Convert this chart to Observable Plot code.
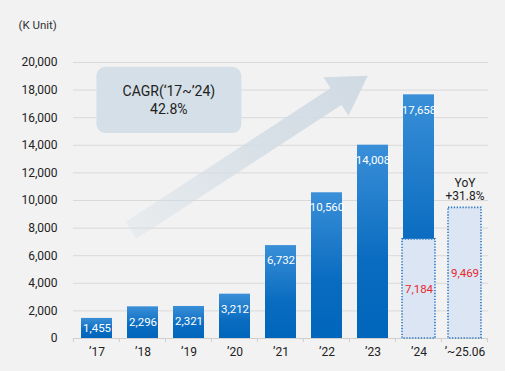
<!DOCTYPE html>
<html><head><meta charset="utf-8">
<script src="https://cdn.jsdelivr.net/npm/d3@7"></script>
<script src="https://cdn.jsdelivr.net/npm/@observablehq/plot@0.6"></script>
<style>
html,body{margin:0;padding:0;background:#f2f2f2;}
svg{display:block;}
</style>
</head><body><div id="chart"></div>
<script>
// ---- data ----
const categories = ["’17","’18","’19","’20","’21","’22","’23","’24","’~25.06"];
const totals = [1455, 2296, 2321, 3212, 6732, 10560, 14008, 17658, null];
const partials = [null, null, null, null, null, null, null, 7184, 9469];
const yTicks = [0, 2000, 4000, 6000, 8000, 10000, 12000, 14000, 16000, 18000, 20000];
const unitLabel = "(K Unit)";
const cagrLines = ["CAGR(‘17~’24)", "42.8%"];
const yoyText = "YoY\n+31.8%";
// arrow / box anchors expressed in data terms (category, value)
const arrowFrom = {cat: "’17", value: 7800};
const arrowTo = {cat: "’23", value: 19000};
const cagrBox = {from: "’17", to: "’20", top: 19650, bottom: 14850};

const fmt = d3.format(",");
const blueData = categories.map((c, i) => ({cat: c, value: totals[i], i})).filter(d => d.value != null);
const partData = categories.map((c, i) => ({cat: c, value: partials[i]})).filter(d => d.value != null);
const PAD = 0.33;

function defs() {
  const d = d3.create("svg:defs");
  const g = d.append("linearGradient").attr("id", "barGrad").attr("x1", 0).attr("y1", 0).attr("x2", 0).attr("y2", 1);
  g.append("stop").attr("offset", "0%").attr("stop-color", "#3a8fd8");
  g.append("stop").attr("offset", "60%").attr("stop-color", "#0a6cc0");
  g.append("stop").attr("offset", "100%").attr("stop-color", "#0066bb");
  return d.node();
}

function decor(index, scales, values, dims) {
  const x = scales.x, y = scales.y;
  const step = x(categories[1]) - x(categories[0]);
  const bw = step * (1 - PAD);
  const xc = c => x(c) + bw / 2;
  const g = d3.create("svg:g");
  // x-axis tick marks at band boundaries
  const bounds = categories.map(c => x(c) - step * PAD / 2);
  bounds.push(x(categories[categories.length - 1]) + bw + step * PAD / 2);
  g.append("g").selectAll("line").data(bounds).join("line")
    .attr("x1", d => d).attr("x2", d => d)
    .attr("y1", y(0)).attr("y2", y(0) + 4)
    .attr("stroke", "#cfcfcf");
  // arrow
  const ax1 = xc(arrowFrom.cat) + 0.75 * step, ay1 = y(arrowFrom.value);
  const ax2 = xc(arrowTo.cat) - 0.1 * step, ay2 = y(arrowTo.value);
  const dx = ax2 - ax1, dy = ay2 - ay1, len = Math.hypot(dx, dy);
  const ux = dx / len, uy = dy / len, nx = -uy, ny = ux;
  const sw = 10, hw = 23, hl = 38;
  const bx = ax2 - ux * hl, by = ay2 - uy * hl;
  const pts = [
    [ax1 + nx * sw, ay1 + ny * sw],
    [bx + nx * sw, by + ny * sw],
    [bx + nx * hw, by + ny * hw],
    [ax2, ay2],
    [bx - nx * hw, by - ny * hw],
    [bx - nx * sw, by - ny * sw],
    [ax1 - nx * sw, ay1 - ny * sw]
  ];
  const dd = g.append("defs");
  const lg = dd.append("linearGradient").attr("id", "arrowGrad").attr("gradientUnits", "userSpaceOnUse")
    .attr("x1", ax1).attr("y1", ay1).attr("x2", ax2).attr("y2", ay2);
  lg.append("stop").attr("offset", "0%").attr("stop-color", "#d3dde5").attr("stop-opacity", 0.3);
  lg.append("stop").attr("offset", "55%").attr("stop-color", "#d3dde5").attr("stop-opacity", 0.85);
  lg.append("stop").attr("offset", "100%").attr("stop-color", "#d0dae3").attr("stop-opacity", 1);
  g.append("polygon").attr("points", pts.map(p => p.join(",")).join(" ")).attr("fill", "url(#arrowGrad)");
  // CAGR box
  const bxl = xc(cagrBox.from), bxr = xc(cagrBox.to) + 0.15 * step;
  const byt = y(cagrBox.top), byb = y(cagrBox.bottom);
  g.append("rect").attr("x", bxl).attr("y", byt).attr("width", bxr - bxl).attr("height", byb - byt)
    .attr("rx", 9).attr("fill", "#d5dfe7");
  const cx = (bxl + bxr) / 2, cy = (byt + byb) / 2;
  g.append("text").attr("x", cx).attr("y", cy - 9).attr("text-anchor", "middle").attr("dy", "0.35em")
    .attr("font-size", 14).attr("fill", "#222").text(cagrLines[0]);
  g.append("text").attr("x", cx).attr("y", cy + 9).attr("text-anchor", "middle").attr("dy", "0.35em")
    .attr("font-size", 14).attr("fill", "#222").text(cagrLines[1]);
  return g.node();
}

const chart = Plot.plot({
  width: 505,
  height: 371,
  marginLeft: 73,
  marginRight: 17,
  marginTop: 62,
  marginBottom: 33,
  style: {background: "transparent", fontFamily: "Roboto, 'Liberation Sans', sans-serif", fontSize: "12px", color: "#333"},
  x: {domain: categories, paddingInner: PAD, paddingOuter: PAD / 2, label: null},
  y: {domain: [0, 20000], label: null},
  marks: [
    defs,
    Plot.gridY(yTicks, {stroke: "#d9d9d9", strokeOpacity: 1}),
    Plot.ruleY([0], {stroke: "#cfcfcf"}),
    decor,
    Plot.barY(blueData, {x: "cat", y: "value", fill: "url(#barGrad)"}),
    Plot.barY(partData, {x: "cat", y: "value", fill: "#dbe5f4", stroke: "#2a78c6", strokeWidth: 1.6, strokeDasharray: "1.3,1.6", insetLeft: -1, insetRight: -1}),
    Plot.text(blueData.filter(d => d.i > 0), {x: "cat", y: "value", text: d => fmt(d.value), fill: "white", fontSize: 11.5, dy: 15}),
    Plot.text(blueData.filter(d => d.i === 0), {x: "cat", y: "value", text: d => fmt(d.value), fill: "white", fontSize: 11.5, dy: 10}),
    Plot.text(partData, {x: "cat", y: d => d.value / 2, text: d => fmt(d.value), fill: "#e8282e", fontSize: 11.5}),
    Plot.text(partData.slice(-1), {x: "cat", y: "value", text: () => yoyText, fill: "#222", fontSize: 12, lineAnchor: "bottom", lineHeight: 1.1, dy: -8}),
    Plot.axisY(yTicks, {tickSize: 0, tickPadding: 16, tickFormat: d => fmt(d), fontSize: 12, fill: "#222"}),
    Plot.axisX({tickSize: 0, tickPadding: 9, fontSize: 12, fill: "#222"}),
    Plot.text([unitLabel], {frameAnchor: "top-left", dx: -55, dy: -42, textAnchor: "start", fontSize: 11.5, fill: "#333"})
  ]
});
document.getElementById("chart").append(chart);
</script>
</body></html>
